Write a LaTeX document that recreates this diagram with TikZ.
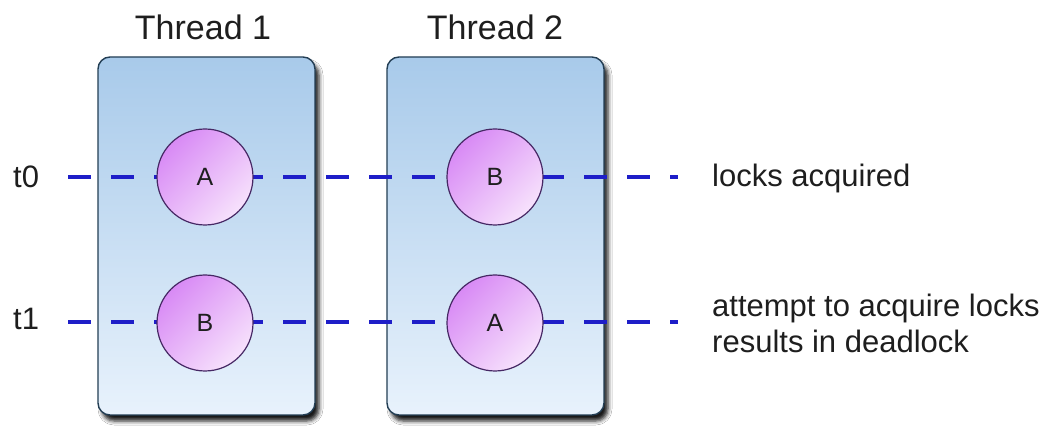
\documentclass[tikz,border=0pt]{standalone}
\usepackage{fontspec}
\setmainfont{Liberation Sans}
\usetikzlibrary{shadows.blur}
\definecolor{boxedge}{RGB}{35,62,84}
\definecolor{boxtop}{RGB}{168,202,234}
\definecolor{boxbot}{RGB}{232,242,252}
\definecolor{circedge}{RGB}{70,40,100}
\definecolor{circtop}{RGB}{216,138,245}
\definecolor{circbot}{RGB}{247,226,252}
\definecolor{lineblue}{RGB}{30,30,200}
\definecolor{txt}{RGB}{30,30,30}
\begin{document}
\begin{tikzpicture}[x=1pt,y=-1pt,
  threadbox/.style={draw=boxedge, line width=1.4pt, rounded corners=12pt,
    minimum width=217pt, minimum height=358pt, inner sep=0pt,
    top color=boxtop, bottom color=boxbot,
    blur shadow={shadow xshift=4pt, shadow yshift=-6pt, shadow blur radius=4pt, shadow opacity=90}},
  lockc/.style={circle, draw=circedge, line width=1.2pt, minimum size=96pt, inner sep=0pt,
    top color=circtop, bottom color=circbot, shading angle=45,
    font=\fontsize{25}{28}\selectfont, text=txt},
  timeline/.style={draw=lineblue, line width=4pt, dash pattern=on 23pt off 20pt},
  lbl/.style={font=\fontsize{31}{36}\selectfont, text=txt, inner sep=0pt},
  ttl/.style={font=\fontsize{34}{40}\selectfont, text=txt, inner sep=0pt}]
\useasboundingbox (0,0) rectangle (1055,427);
\fill[white] (0,0) rectangle (1055,427);
% thread boxes
\node[threadbox] (th1) at (206.5,236) {};
\node[threadbox] (th2) at (495.5,236) {};
% titles
\node[ttl, anchor=base] (ttl1) at (203,40) {Thread 1};
\node[ttl, anchor=base] (ttl2) at (495,40) {Thread 2};
% timelines
\coordinate (s0) at (68,177);
\coordinate (e0) at (678,177);
\coordinate (s1) at (68,322);
\coordinate (e1) at (678,322);
\draw[timeline] (s0) -- (e0);
\draw[timeline] (s1) -- (e1);
% locks
\node[lockc] (a1) at (205,177) {A};
\node[lockc] (b2) at (495,177) {B};
\node[lockc] (b1) at (205,323) {B};
\node[lockc] (a2) at (495,323) {A};
% labels
\node[lbl, anchor=base west] (lt0) at (13,188) {t0};
\node[lbl, anchor=base west] (lt1) at (13,330) {t1};
\node[lbl, anchor=base west] (acq) at (712,187) {locks acquired};
\node[lbl, anchor=base west, align=left] (dead) at (712,353) {attempt to acquire locks\\results in deadlock};
\end{tikzpicture}
\end{document}
